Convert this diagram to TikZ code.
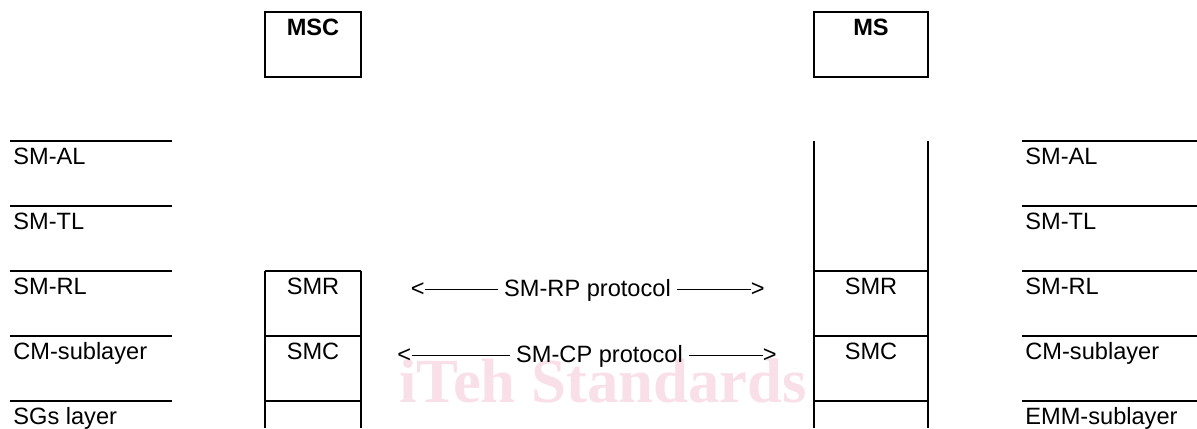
\documentclass[tikz,border=0pt]{standalone}
\usepackage{fontspec}
\setmainfont{Liberation Sans}
\newfontfamily\markfont{Liberation Serif}
\definecolor{markpink}{RGB}{249,224,232}
\tikzset{
	every node/.style={inner sep=0pt, font=\fontsize{11.8}{14}\selectfont},
	layer/.style={line width=1.2pt},
	proto/.style={line width=0.6pt},
	lyrtxt/.style={anchor=base west},
	boxtxt/.style={anchor=base},
	protolbl/.style={anchor=base, inner xsep=3pt}
}
\begin{document}
\begin{tikzpicture}[x=0.5pt,y=-0.5pt]
			\useasboundingbox (0,0) rectangle (1197,428);
			% background mark
			\node	(mark) at (399,402) [anchor=base west, text=markpink, font=\markfont\bfseries\fontsize{31.4}{36}\selectfont] {iTeh Standards};

			% entities
			\draw[layer] (265,12) rectangle (361,77);
			\draw[layer] (814,12) rectangle (928,77);
			\node	(msc) at (313,35) [boxtxt, font=\bfseries\fontsize{11.8}{14}\selectfont] {MSC};
			\node	(ms) at (871,35) [boxtxt, font=\bfseries\fontsize{11.8}{14}\selectfont] {MS};

			% layer names, left and right
			\foreach \y/\l/\r in {141/SM-AL/SM-AL, 206/SM-TL/SM-TL, 271/SM-RL/SM-RL, 336/CM-sublayer/CM-sublayer, 401/SGs layer/EMM-sublayer}{
				\draw[layer] (10,\y) -- (172,\y);
				\draw[layer] (1022,\y) -- (1197,\y);
				\node at (13,\y+23.5) [lyrtxt] {\l};
				\node at (1025,\y+23.5) [lyrtxt] {\r};
			}

			% MSC stack
			\draw[layer] (265,271) -- (265,428) (361,271) -- (361,428);
			\foreach \y in {271,336,401}
				\draw[layer] (265,\y) -- (361,\y);
			\node	(smrA) at (313,294.5) [boxtxt] {SMR};
			\node	(smcA) at (313,359.5) [boxtxt] {SMC};

			% MS stack
			\draw[layer] (814,141) -- (814,428) (928,141) -- (928,428);
			\foreach \y in {271,336,401}
				\draw[layer] (814,\y) -- (928,\y);
			\node	(smrB) at (871,294.5) [boxtxt] {SMR};
			\node	(smcB) at (871,359.5) [boxtxt] {SMC};

			% peer protocols
			\node	(rpL) at (410.5,296) [anchor=base west] {<};
			\node	(rp) at (587.5,296) [protolbl] {SM-RP protocol};
			\node	(rpR) at (750.5,296) [anchor=base west] {>};
			\node	(cpL) at (397,362) [anchor=base west] {<};
			\node	(cp) at (599.5,362) [protolbl] {SM-CP protocol};
			\node	(cpR) at (762.5,362) [anchor=base west] {>};
			\draw[proto]
			(rpL.east) -- (rpL.east -| rp.west)
			(rp.east |- rpR.west) -- (rpR.west)
			(cpL.east) -- (cpL.east -| cp.west)
			(cp.east |- cpR.west) -- (cpR.west)
			;
		\end{tikzpicture}
\end{document}
